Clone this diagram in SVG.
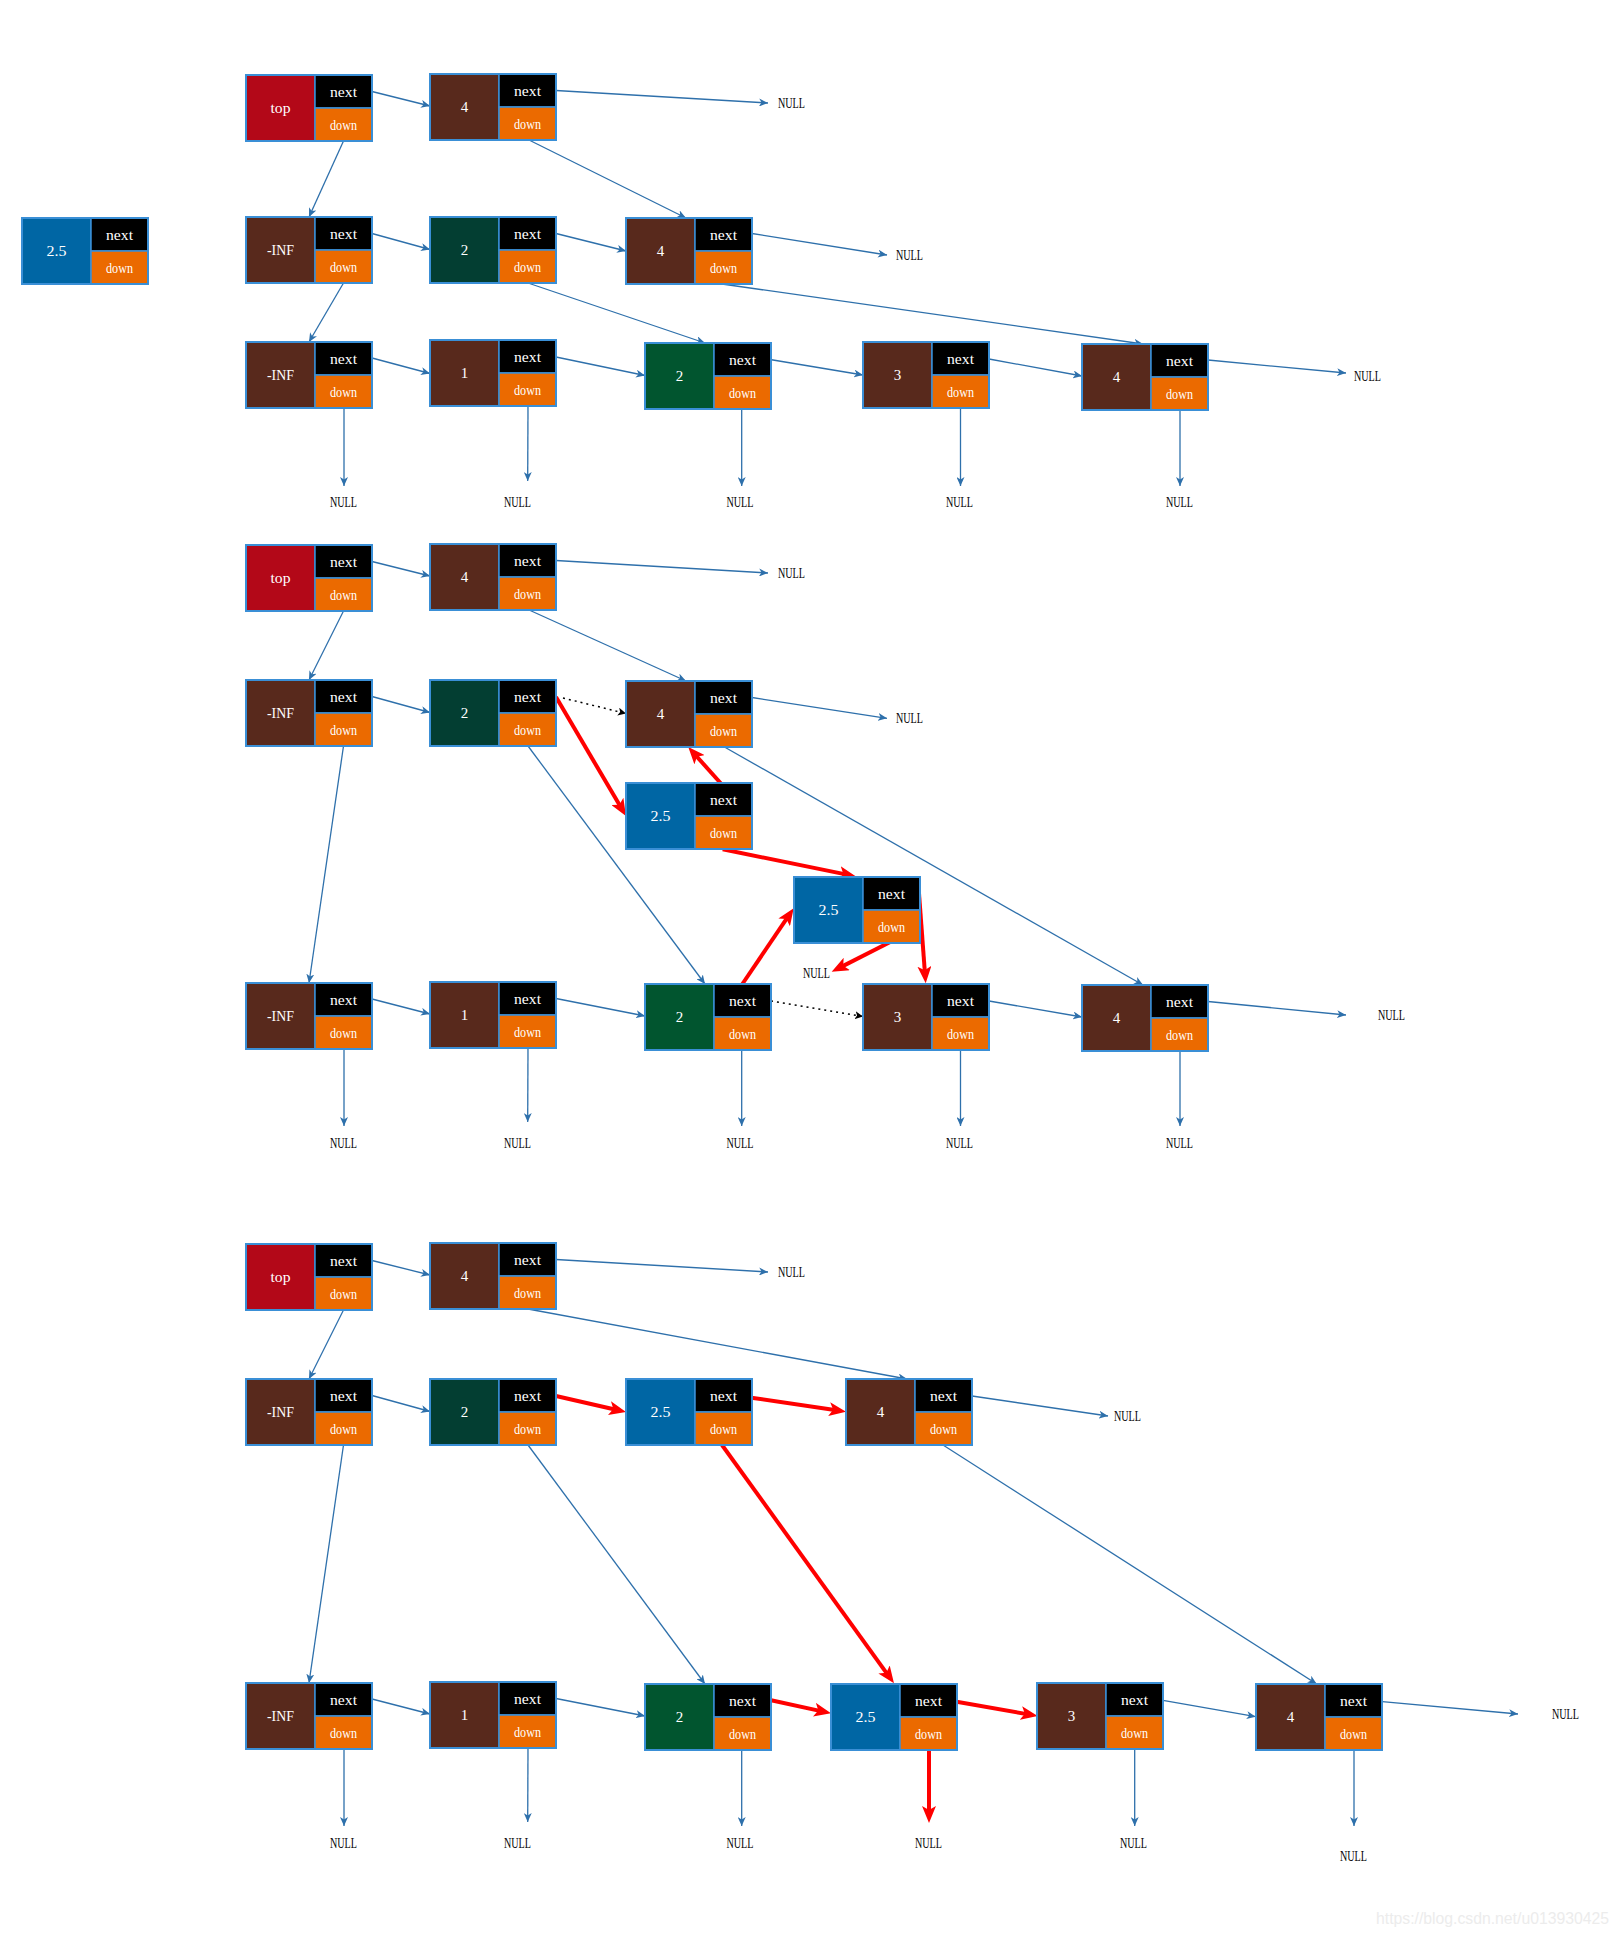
<svg xmlns="http://www.w3.org/2000/svg" xmlns:xlink="http://www.w3.org/1999/xlink" width="1619" height="1937" viewBox="0 0 1619 1937">
<style>
.t{font-family:"Liberation Serif","DejaVu Serif",serif;font-size:15px;fill:#fff;text-anchor:middle;dominant-baseline:central}
.nl{font-family:"Liberation Serif","DejaVu Serif",serif;font-size:15px;fill:#000;text-anchor:middle;dominant-baseline:central}
.sub{stroke:#3a8fd6;stroke-width:1.5}
.red{fill:#b30818}.brown{fill:#58291c}.dg{fill:#033e32}.gr{fill:#01552f}.bl{fill:#0066a4}
.c{stroke:#2e70ab;stroke-width:1.3;fill:none;marker-end:url(#ab)}
.r{stroke:#ff0000;stroke-width:4;fill:none;marker-end:url(#ar)}
.d{stroke:#000;stroke-width:1.5;stroke-dasharray:2 4;fill:none;marker-end:url(#ak)}
</style>
<defs>
<marker id="ab" markerUnits="userSpaceOnUse" markerWidth="10" markerHeight="8" refX="9" refY="4" orient="auto"><path d="M0,0 L9,4 L0,8 L2.5,4 z" fill="#2e70ab"/></marker>
<marker id="ak" markerUnits="userSpaceOnUse" markerWidth="10" markerHeight="8" refX="8" refY="4" orient="auto"><path d="M0,0 L8,4 L0,8 L2,4 z" fill="#000"/></marker>
<marker id="ar" markerUnits="userSpaceOnUse" markerWidth="18" markerHeight="14" refX="9" refY="7" orient="auto"><path d="M0,0 L17,7 L0,14 L4,7 z" fill="#ff0000"/></marker>
<g id="nd">
<rect x="69" y="0" width="57" height="33" fill="#000" class="sub"/>
<rect x="69" y="33" width="57" height="33" fill="#eb6a00" class="sub"/>
<text x="97.5" y="17" class="t" textLength="27" lengthAdjust="spacingAndGlyphs">next</text>
<text x="97.5" y="50" class="t" textLength="27" lengthAdjust="spacingAndGlyphs">down</text>
<rect x="0" y="0" width="126" height="66" fill="none" stroke="#3a8fd6" stroke-width="2"/>
</g>
</defs>
<rect width="1619" height="1937" fill="#fff"/>

<g id="connectors">
<!-- section 1 -->
<line class="c" x1="372" y1="91.5" x2="430" y2="106"/>
<line class="c" x1="556" y1="90.5" x2="768" y2="103"/>
<line class="c" x1="343.5" y1="141" x2="309" y2="217"/>
<line class="c" x1="528" y1="139.5" x2="686" y2="218"/>
<line class="c" x1="372" y1="233.5" x2="430" y2="249.5"/>
<line class="c" x1="556" y1="233.5" x2="626" y2="251"/>
<line class="c" x1="752" y1="233.5" x2="887" y2="255"/>
<line class="c" x1="343.5" y1="283" x2="309" y2="342"/>
<line class="c" x1="528" y1="283" x2="705" y2="343"/>
<line class="c" x1="722" y1="284" x2="1143" y2="344"/>
<line class="c" x1="372" y1="358" x2="430" y2="373.5"/>
<line class="c" x1="556" y1="357" x2="645" y2="375.5"/>
<line class="c" x1="770" y1="359.5" x2="863" y2="375"/>
<line class="c" x1="989" y1="359" x2="1082" y2="376"/>
<line class="c" x1="1208" y1="360" x2="1346" y2="373"/>
<line class="c" x1="344" y1="408" x2="344" y2="486"/>
<line class="c" x1="528" y1="406" x2="527.7" y2="481"/>
<line class="c" x1="741.7" y1="409" x2="741.7" y2="486"/>
<line class="c" x1="960.5" y1="408" x2="960.5" y2="486"/>
<line class="c" x1="1180" y1="410" x2="1180" y2="486"/>
<!-- section 2 -->
<line class="c" x1="372" y1="561.5" x2="430" y2="576"/>
<line class="c" x1="556" y1="560.5" x2="768" y2="573"/>
<line class="c" x1="343.5" y1="611" x2="309" y2="680"/>
<line class="c" x1="528" y1="609.5" x2="686" y2="681"/>
<line class="c" x1="372" y1="696.5" x2="430" y2="712.5"/>
<line class="d" x1="563" y1="698" x2="626" y2="713.5"/>
<line class="c" x1="752" y1="697.5" x2="887" y2="718.3"/>
<line class="c" x1="343.5" y1="746" x2="309" y2="983"/>
<line class="c" x1="528" y1="746" x2="705" y2="984"/>
<line class="c" x1="722.7" y1="746" x2="1143" y2="985"/>
<line class="c" x1="372" y1="999" x2="430" y2="1014"/>
<line class="c" x1="556" y1="998.5" x2="645" y2="1016"/>
<line class="d" x1="771" y1="1001" x2="863" y2="1016.5"/>
<line class="c" x1="989" y1="1001" x2="1082" y2="1017"/>
<line class="c" x1="1208" y1="1001.5" x2="1346" y2="1015"/>
<line class="c" x1="344" y1="1050" x2="344" y2="1126"/>
<line class="c" x1="528" y1="1048" x2="527.7" y2="1122"/>
<line class="c" x1="741.7" y1="1050" x2="741.7" y2="1126"/>
<line class="c" x1="960.5" y1="1050" x2="960.5" y2="1126"/>
<line class="c" x1="1180" y1="1051" x2="1180" y2="1126"/>
<line class="r" x1="556" y1="697" x2="621.9" y2="809.1"/>
<line class="r" x1="722.3" y1="785" x2="693.6" y2="753"/>
<line class="r" x1="722.7" y1="849.3" x2="848.2" y2="874.9"/>
<line class="r" x1="741.7" y1="985" x2="789.2" y2="914.9"/>
<line class="r" x1="890.7" y1="941.7" x2="838.8" y2="968.1"/>
<line class="r" x1="919" y1="893.3" x2="925.1" y2="975.3"/>
<!-- section 3 -->
<line class="c" x1="372" y1="1260.5" x2="430" y2="1275"/>
<line class="c" x1="556" y1="1259.5" x2="768" y2="1272"/>
<line class="c" x1="343.5" y1="1310" x2="309" y2="1379"/>
<line class="c" x1="528" y1="1309" x2="907" y2="1379"/>
<line class="c" x1="372" y1="1395.5" x2="430" y2="1411.5"/>
<line class="c" x1="972" y1="1396" x2="1108" y2="1416"/>
<line class="c" x1="343.5" y1="1445" x2="309" y2="1683"/>
<line class="c" x1="528" y1="1445" x2="705" y2="1684"/>
<line class="c" x1="943" y1="1445" x2="1316.7" y2="1684"/>
<line class="c" x1="372" y1="1699" x2="430" y2="1714"/>
<line class="c" x1="556" y1="1698.5" x2="645" y2="1716"/>
<line class="c" x1="1163" y1="1700.3" x2="1255.7" y2="1716.7"/>
<line class="c" x1="1382.3" y1="1701.7" x2="1518" y2="1714"/>
<line class="c" x1="344" y1="1750" x2="344" y2="1826"/>
<line class="c" x1="528" y1="1748" x2="527.7" y2="1822"/>
<line class="c" x1="741.7" y1="1750" x2="741.7" y2="1826"/>
<line class="c" x1="1134.7" y1="1749" x2="1134.7" y2="1826"/>
<line class="c" x1="1354" y1="1750" x2="1354" y2="1826"/>
<line class="r" x1="556" y1="1396" x2="618.2" y2="1410.2"/>
<line class="r" x1="751.3" y1="1397.7" x2="838.1" y2="1410.5"/>
<line class="r" x1="722" y1="1445" x2="889.3" y2="1676.8"/>
<line class="r" x1="770" y1="1700" x2="823.2" y2="1711.6"/>
<line class="r" x1="956.7" y1="1701.7" x2="1029.8" y2="1714.6"/>
<line class="r" x1="929" y1="1750" x2="929" y2="1815"/>
</g>

<!-- section 1 nodes -->
<g id="s1-top" transform="translate(246,75)"><rect width="69" height="66" class="red sub"/><text x="34.5" y="33" class="t" textLength="20" lengthAdjust="spacingAndGlyphs">top</text><use href="#nd"/></g>
<g id="s1-4a" transform="translate(430,74)"><rect width="69" height="66" class="brown sub"/><text x="34.5" y="33" class="t">4</text><use href="#nd"/></g>
<g id="s1-new" transform="translate(22,218)"><rect width="69" height="66" class="bl sub"/><text x="34.5" y="33" class="t" textLength="20" lengthAdjust="spacingAndGlyphs">2.5</text><use href="#nd"/></g>
<g id="s1-inf2" transform="translate(246,217)"><rect width="69" height="66" class="brown sub"/><text x="34.5" y="33" class="t" textLength="27" lengthAdjust="spacingAndGlyphs">-INF</text><use href="#nd"/></g>
<g id="s1-2b" transform="translate(430,217)"><rect width="69" height="66" class="dg sub"/><text x="34.5" y="33" class="t">2</text><use href="#nd"/></g>
<g id="s1-4b" transform="translate(626,218)"><rect width="69" height="66" class="brown sub"/><text x="34.5" y="33" class="t">4</text><use href="#nd"/></g>
<g id="s1-inf3" transform="translate(246,342)"><rect width="69" height="66" class="brown sub"/><text x="34.5" y="33" class="t" textLength="27" lengthAdjust="spacingAndGlyphs">-INF</text><use href="#nd"/></g>
<g id="s1-1" transform="translate(430,340)"><rect width="69" height="66" class="brown sub"/><text x="34.5" y="33" class="t">1</text><use href="#nd"/></g>
<g id="s1-2c" transform="translate(645,343)"><rect width="69" height="66" class="gr sub"/><text x="34.5" y="33" class="t">2</text><use href="#nd"/></g>
<g id="s1-3" transform="translate(863,342)"><rect width="69" height="66" class="brown sub"/><text x="34.5" y="33" class="t">3</text><use href="#nd"/></g>
<g id="s1-4c" transform="translate(1082,344)"><rect width="69" height="66" class="brown sub"/><text x="34.5" y="33" class="t">4</text><use href="#nd"/></g>

<!-- section 2 nodes -->
<g id="s2-top" transform="translate(246,545)"><rect width="69" height="66" class="red sub"/><text x="34.5" y="33" class="t" textLength="20" lengthAdjust="spacingAndGlyphs">top</text><use href="#nd"/></g>
<g id="s2-4a" transform="translate(430,544)"><rect width="69" height="66" class="brown sub"/><text x="34.5" y="33" class="t">4</text><use href="#nd"/></g>
<g id="s2-inf2" transform="translate(246,680)"><rect width="69" height="66" class="brown sub"/><text x="34.5" y="33" class="t" textLength="27" lengthAdjust="spacingAndGlyphs">-INF</text><use href="#nd"/></g>
<g id="s2-2b" transform="translate(430,680)"><rect width="69" height="66" class="dg sub"/><text x="34.5" y="33" class="t">2</text><use href="#nd"/></g>
<g id="s2-4b" transform="translate(626,681)"><rect width="69" height="66" class="brown sub"/><text x="34.5" y="33" class="t">4</text><use href="#nd"/></g>
<g id="s2-25a" transform="translate(626,783)"><rect width="69" height="66" class="bl sub"/><text x="34.5" y="33" class="t" textLength="20" lengthAdjust="spacingAndGlyphs">2.5</text><use href="#nd"/></g>
<g id="s2-25b" transform="translate(794,877)"><rect width="69" height="66" class="bl sub"/><text x="34.5" y="33" class="t" textLength="20" lengthAdjust="spacingAndGlyphs">2.5</text><use href="#nd"/></g>
<g id="s2-inf3" transform="translate(246,983)"><rect width="69" height="66" class="brown sub"/><text x="34.5" y="33" class="t" textLength="27" lengthAdjust="spacingAndGlyphs">-INF</text><use href="#nd"/></g>
<g id="s2-1" transform="translate(430,982)"><rect width="69" height="66" class="brown sub"/><text x="34.5" y="33" class="t">1</text><use href="#nd"/></g>
<g id="s2-2c" transform="translate(645,984)"><rect width="69" height="66" class="gr sub"/><text x="34.5" y="33" class="t">2</text><use href="#nd"/></g>
<g id="s2-3" transform="translate(863,984)"><rect width="69" height="66" class="brown sub"/><text x="34.5" y="33" class="t">3</text><use href="#nd"/></g>
<g id="s2-4c" transform="translate(1082,985)"><rect width="69" height="66" class="brown sub"/><text x="34.5" y="33" class="t">4</text><use href="#nd"/></g>

<!-- section 3 nodes -->
<g id="s3-top" transform="translate(246,1244)"><rect width="69" height="66" class="red sub"/><text x="34.5" y="33" class="t" textLength="20" lengthAdjust="spacingAndGlyphs">top</text><use href="#nd"/></g>
<g id="s3-4a" transform="translate(430,1243)"><rect width="69" height="66" class="brown sub"/><text x="34.5" y="33" class="t">4</text><use href="#nd"/></g>
<g id="s3-inf2" transform="translate(246,1379)"><rect width="69" height="66" class="brown sub"/><text x="34.5" y="33" class="t" textLength="27" lengthAdjust="spacingAndGlyphs">-INF</text><use href="#nd"/></g>
<g id="s3-2b" transform="translate(430,1379)"><rect width="69" height="66" class="dg sub"/><text x="34.5" y="33" class="t">2</text><use href="#nd"/></g>
<g id="s3-25" transform="translate(626,1379)"><rect width="69" height="66" class="bl sub"/><text x="34.5" y="33" class="t" textLength="20" lengthAdjust="spacingAndGlyphs">2.5</text><use href="#nd"/></g>
<g id="s3-4b" transform="translate(846,1379)"><rect width="69" height="66" class="brown sub"/><text x="34.5" y="33" class="t">4</text><use href="#nd"/></g>
<g id="s3-inf3" transform="translate(246,1683)"><rect width="69" height="66" class="brown sub"/><text x="34.5" y="33" class="t" textLength="27" lengthAdjust="spacingAndGlyphs">-INF</text><use href="#nd"/></g>
<g id="s3-1" transform="translate(430,1682)"><rect width="69" height="66" class="brown sub"/><text x="34.5" y="33" class="t">1</text><use href="#nd"/></g>
<g id="s3-2c" transform="translate(645,1684)"><rect width="69" height="66" class="gr sub"/><text x="34.5" y="33" class="t">2</text><use href="#nd"/></g>
<g id="s3-25c" transform="translate(831,1684)"><rect width="69" height="66" class="bl sub"/><text x="34.5" y="33" class="t" textLength="20" lengthAdjust="spacingAndGlyphs">2.5</text><use href="#nd"/></g>
<g id="s3-3" transform="translate(1037,1683)"><rect width="69" height="66" class="brown sub"/><text x="34.5" y="33" class="t">3</text><use href="#nd"/></g>
<g id="s3-4c" transform="translate(1256,1684)"><rect width="69" height="66" class="brown sub"/><text x="34.5" y="33" class="t">4</text><use href="#nd"/></g>

<!-- NULL labels -->
<g id="null-labels">
<text class="nl" x="791.5" y="103" textLength="27" lengthAdjust="spacingAndGlyphs">NULL</text>
<text class="nl" x="909.5" y="255" textLength="27" lengthAdjust="spacingAndGlyphs">NULL</text>
<text class="nl" x="1367.5" y="376" textLength="27" lengthAdjust="spacingAndGlyphs">NULL</text>
<text class="nl" x="343.5" y="502" textLength="27" lengthAdjust="spacingAndGlyphs">NULL</text>
<text class="nl" x="517.5" y="502" textLength="27" lengthAdjust="spacingAndGlyphs">NULL</text>
<text class="nl" x="740" y="502" textLength="27" lengthAdjust="spacingAndGlyphs">NULL</text>
<text class="nl" x="959.5" y="502" textLength="27" lengthAdjust="spacingAndGlyphs">NULL</text>
<text class="nl" x="1179.5" y="502" textLength="27" lengthAdjust="spacingAndGlyphs">NULL</text>

<text class="nl" x="791.5" y="573" textLength="27" lengthAdjust="spacingAndGlyphs">NULL</text>
<text class="nl" x="909.5" y="718" textLength="27" lengthAdjust="spacingAndGlyphs">NULL</text>
<text class="nl" x="816.5" y="973" textLength="27" lengthAdjust="spacingAndGlyphs">NULL</text>
<text class="nl" x="1391.5" y="1015" textLength="27" lengthAdjust="spacingAndGlyphs">NULL</text>
<text class="nl" x="343.5" y="1143" textLength="27" lengthAdjust="spacingAndGlyphs">NULL</text>
<text class="nl" x="517.5" y="1143" textLength="27" lengthAdjust="spacingAndGlyphs">NULL</text>
<text class="nl" x="740" y="1143" textLength="27" lengthAdjust="spacingAndGlyphs">NULL</text>
<text class="nl" x="959.5" y="1143" textLength="27" lengthAdjust="spacingAndGlyphs">NULL</text>
<text class="nl" x="1179.5" y="1143" textLength="27" lengthAdjust="spacingAndGlyphs">NULL</text>

<text class="nl" x="791.5" y="1272" textLength="27" lengthAdjust="spacingAndGlyphs">NULL</text>
<text class="nl" x="1127.5" y="1416" textLength="27" lengthAdjust="spacingAndGlyphs">NULL</text>
<text class="nl" x="1565.5" y="1714" textLength="27" lengthAdjust="spacingAndGlyphs">NULL</text>
<text class="nl" x="343.5" y="1843" textLength="27" lengthAdjust="spacingAndGlyphs">NULL</text>
<text class="nl" x="517.5" y="1843" textLength="27" lengthAdjust="spacingAndGlyphs">NULL</text>
<text class="nl" x="740" y="1843" textLength="27" lengthAdjust="spacingAndGlyphs">NULL</text>
<text class="nl" x="928.5" y="1843" textLength="27" lengthAdjust="spacingAndGlyphs">NULL</text>
<text class="nl" x="1133.5" y="1843" textLength="27" lengthAdjust="spacingAndGlyphs">NULL</text>
<text class="nl" x="1353.5" y="1856" textLength="27" lengthAdjust="spacingAndGlyphs">NULL</text>
</g>

<text x="1376" y="1924" font-family="'Liberation Sans', Arial, sans-serif" font-size="16" fill="#ececec" textLength="233" lengthAdjust="spacingAndGlyphs">https://blog.csdn.net/u013930425</text>
</svg>
